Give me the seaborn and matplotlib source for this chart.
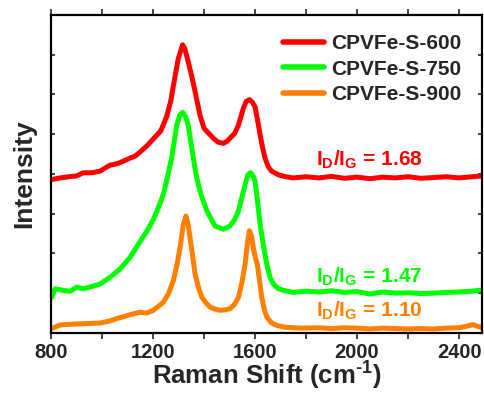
import numpy as np
import pandas as pd
import matplotlib
matplotlib.use('Agg')
import matplotlib.pyplot as plt
import seaborn as sns

# Raman spectra (offset already included, arbitrary units)
x_600 = [803, 835, 870, 900, 926, 960, 992, 1010, 1031, 1060, 1083, 1110, 1130, 1149, 1175,
         1201, 1230, 1254, 1270, 1280, 1299, 1316, 1325, 1338, 1352, 1365, 1384, 1400, 1411,
         1425, 1436, 1455, 1476, 1490, 1502, 1520, 1535, 1554, 1566, 1578, 1590, 1600, 1610,
         1620, 1630, 1639, 1652, 1665, 1691, 1720, 1750, 1800, 1850, 1900, 1950, 2000, 2050,
         2100, 2150, 2200, 2250, 2300, 2350, 2400, 2450, 2490]
y_600 = [3.86, 3.90, 3.93, 3.95, 4.03, 4.03, 4.07, 4.14, 4.22, 4.26, 4.32, 4.40, 4.45, 4.55, 4.70,
         4.88, 5.08, 5.45, 5.85, 6.23, 6.90, 7.25, 7.15, 6.82, 6.45, 6.07, 5.48, 5.15, 5.07,
         4.98, 4.90, 4.80, 4.77, 4.82, 4.90, 5.02, 5.23, 5.65, 5.83, 5.87, 5.80, 5.69, 5.35,
         4.98, 4.65, 4.40, 4.18, 4.07, 3.98, 3.93, 3.90, 3.93, 3.90, 3.94, 3.89, 3.92, 3.88,
         3.92, 3.90, 3.93, 3.89, 3.91, 3.93, 3.90, 3.93, 3.95]

x_750 = [803, 816, 832, 848, 875, 901, 927, 960, 992, 1031, 1071, 1110, 1149, 1175, 1201,
         1227, 1240, 1256, 1273, 1293, 1305, 1316, 1327, 1338, 1358, 1370, 1384, 1398, 1411,
         1443, 1476, 1502, 1520, 1535, 1548, 1561, 1572, 1582, 1592, 1600, 1610, 1620, 1633,
         1646, 1659, 1672, 1690, 1711, 1750, 1800, 1850, 1900, 1950, 2000, 2050, 2100, 2150,
         2200, 2250, 2300, 2350, 2400, 2450, 2490]
y_750 = [0.90, 1.11, 1.09, 1.07, 1.05, 1.15, 1.11, 1.17, 1.23, 1.40, 1.61, 1.90, 2.30, 2.55, 2.85,
         3.25, 3.48, 3.90, 4.40, 5.23, 5.48, 5.55, 5.45, 5.23, 4.40, 3.95, 3.57, 3.30, 3.07,
         2.69, 2.61, 2.69, 2.85, 3.07, 3.40, 3.73, 3.98, 4.03, 3.95, 3.82, 3.30, 2.73, 2.20,
         1.73, 1.40, 1.23, 1.12, 1.07, 1.02, 1.05, 1.03, 1.06, 1.02, 1.04, 0.98, 1.03, 1.00,
         1.01, 0.99, 1.00, 1.02, 1.03, 1.05, 1.08]

x_900 = [803, 835, 880, 926, 992, 1030, 1057, 1090, 1122, 1149, 1175, 1201, 1227, 1240, 1260,
         1280, 1295, 1306, 1318, 1329, 1337, 1345, 1355, 1365, 1378, 1391, 1410, 1424, 1443,
         1463, 1482, 1502, 1520, 1535, 1548, 1561, 1570, 1578, 1586, 1593, 1601, 1609, 1617,
         1626, 1636, 1646, 1665, 1685, 1720, 1780, 1850, 1900, 1950, 2000, 2050, 2100, 2150,
         2200, 2250, 2300, 2350, 2400, 2430, 2455, 2475, 2494]
y_900 = [0.11, 0.20, 0.22, 0.23, 0.25, 0.30, 0.36, 0.42, 0.48, 0.52, 0.50, 0.57, 0.70, 0.77, 0.98,
         1.32, 1.75, 2.15, 2.70, 2.94, 2.75, 2.40, 1.95, 1.48, 1.15, 0.90, 0.74, 0.65, 0.60,
         0.57, 0.58, 0.61, 0.72, 0.90, 1.25, 1.73, 2.25, 2.57, 2.45, 2.15, 1.90, 1.73, 1.35,
         0.90, 0.60, 0.40, 0.25, 0.19, 0.14, 0.12, 0.13, 0.11, 0.13, 0.12, 0.10, 0.12, 0.11,
         0.10, 0.11, 0.10, 0.12, 0.13, 0.17, 0.21, 0.16, 0.13]

samples = ['CPVFe-S-600', 'CPVFe-S-750', 'CPVFe-S-900']
ratios = ['1.68', '1.47', '1.10']
colors = ['#FF0000', '#00FF00', '#FF8000']

df = pd.concat([
    pd.DataFrame({'shift': x_600, 'intensity': y_600, 'sample': samples[0]}),
    pd.DataFrame({'shift': x_750, 'intensity': y_750, 'sample': samples[1]}),
    pd.DataFrame({'shift': x_900, 'intensity': y_900, 'sample': samples[2]}),
])

sns.set_style('ticks')
plt.rcParams['font.family'] = ['Liberation Sans', 'DejaVu Sans']
plt.rcParams['font.weight'] = 'bold'
plt.rcParams['mathtext.fontset'] = 'custom'
plt.rcParams['mathtext.rm'] = 'Liberation Sans:bold'
plt.rcParams['mathtext.it'] = 'Liberation Sans:bold'
plt.rcParams['mathtext.bf'] = 'Liberation Sans:bold'

fig = plt.figure(figsize=(4.84, 3.94), dpi=100)
ax = fig.add_axes([0.1054, 0.155, 0.8905, 0.807])

sns.lineplot(data=df, x='shift', y='intensity', hue='sample', palette=colors,
             linewidth=3.6, sort=False, ax=ax)

ax.set_xlim(800, 2490)
ax.set_ylim(0, 8.0)
ax.set_xticks([800, 1200, 1600, 2000, 2400])
ax.set_xticks([1000, 1400, 1800, 2200], minor=True)
ax.set_yticks(np.arange(0, 9, 1))
ax.set_yticklabels([])
ax.tick_params(axis='x', which='both', direction='out', length=4, width=1.2,
               labelsize=14.5, top=True, pad=3)
ax.tick_params(axis='y', direction='in', length=3, width=1.2, right=True)
for lbl in ax.get_xticklabels():
    lbl.set_fontweight('bold')

for sp in ax.spines.values():
    sp.set_linewidth(1.6)
    sp.set_color('black')

ax.set_xlabel('Raman Shift (cm$^{\\mathregular{\\text{-}1}}$)', fontsize=18.5, fontweight='bold', labelpad=-1)
ax.set_ylabel('Intensity', fontsize=19, fontweight='bold', labelpad=7)

leg = ax.legend(loc='upper right', frameon=False, prop={'size': 15, 'weight': 'bold'},
                handlelength=2.0, handletextpad=0.3, labelspacing=0.3, borderaxespad=0.3,
                bbox_to_anchor=(0.985, 0.985))
for line in leg.get_lines():
    line.set_linewidth(4)

label_y = [4.22, 1.27, 0.40]
for r, yy, c in zip(ratios, label_y, colors):
    ax.text(1840, yy, '$\\mathregular{I_D/I_G}$ = ' + r, color=c, fontsize=15,
            fontweight='bold', va='baseline')

fig.savefig('out.png', dpi=100)
